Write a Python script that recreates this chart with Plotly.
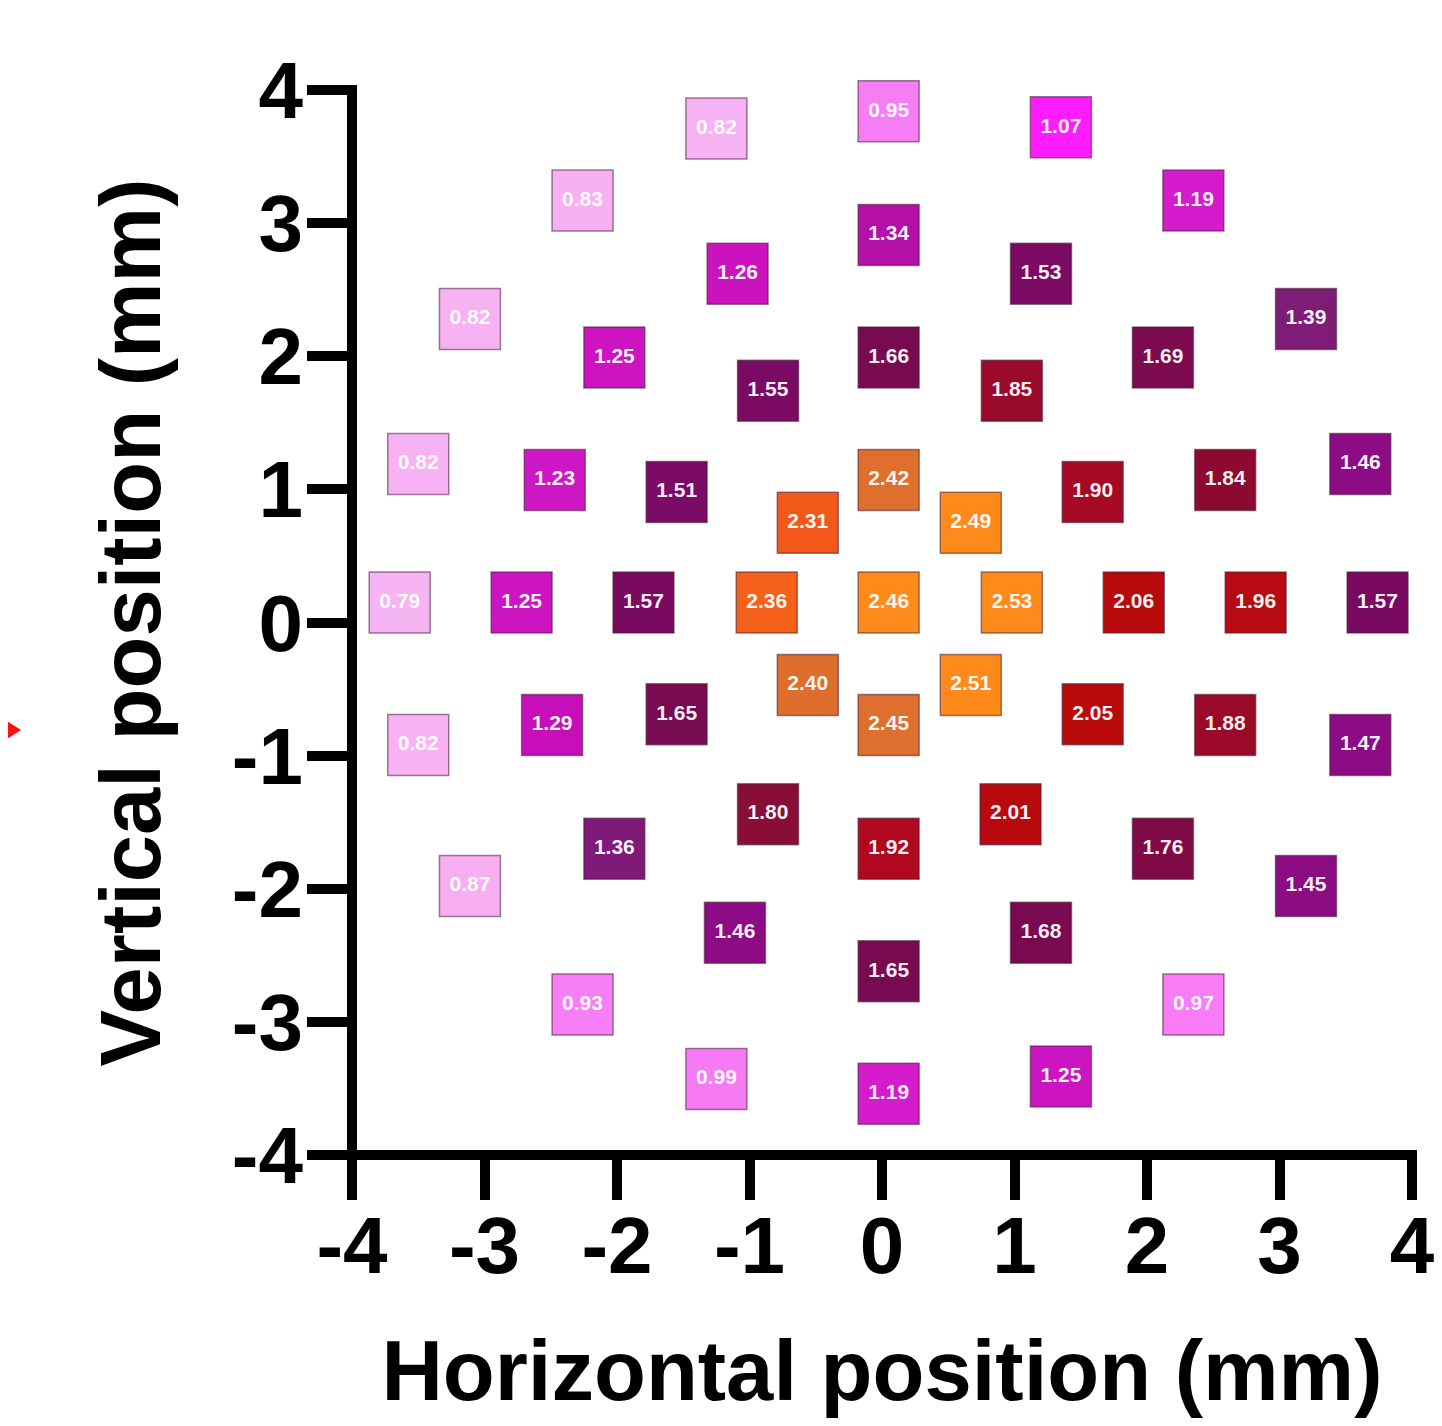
import plotly.graph_objects as go

# ---- data ----
x_pos = [-1.25, 0.05, 1.35, -2.26, 2.35, 0.05, -1.09, 1.20, -3.11, 3.20,
         -2.02, 0.05, 2.12, -0.86, 0.98, -3.50, 3.61, -2.47, 0.05, 2.59,
         -1.55, 1.59, -0.56, 0.67,
         -3.64, -2.72, -1.80, -0.87, 0.05, 0.98, 1.90, 2.82, 3.74,
         -0.56, 0.67, -1.55, 1.59, -2.49, 0.05, 2.59, -3.50, 3.61,
         -0.86, 0.97, -2.02, 0.05, 2.12, -3.11, 3.20, -1.11, 1.20,
         0.05, -2.26, 2.35, -1.25, 1.35, 0.05]
y_pos = [3.71, 3.84, 3.72, 3.17, 3.17, 2.91, 2.62, 2.62, 2.28, 2.28,
         1.99, 1.99, 1.99, 1.74, 1.74, 1.19, 1.19, 1.07, 1.07, 1.07,
         0.98, 0.98, 0.75, 0.75,
         0.15, 0.15, 0.15, 0.15, 0.15, 0.15, 0.15, 0.15, 0.15,
         -0.47, -0.47, -0.69, -0.69, -0.77, -0.77, -0.77, -0.92, -0.92,
         -1.44, -1.44, -1.70, -1.70, -1.70, -1.98, -1.98, -2.33, -2.33,
         -2.62, -2.87, -2.87, -3.43, -3.41, -3.54]
values = [0.82, 0.95, 1.07, 0.83, 1.19, 1.34, 1.26, 1.53, 0.82, 1.39,
          1.25, 1.66, 1.69, 1.55, 1.85, 0.82, 1.46, 1.23, 2.42, 1.84,
          1.51, 1.90, 2.31, 2.49,
          0.79, 1.25, 1.57, 2.36, 2.46, 2.53, 2.06, 1.96, 1.57,
          2.40, 2.51, 1.65, 2.05, 1.29, 2.45, 1.88, 0.82, 1.47,
          1.80, 2.01, 1.36, 1.92, 1.76, 0.87, 1.45, 1.46, 1.68,
          1.65, 0.93, 0.97, 0.99, 1.25, 1.19]
tick_vals = [-4, -3, -2, -1, 0, 1, 2, 3, 4]

x_title = "Horizontal position (mm)"
y_title = "Vertical position (mm)"

# ---- colour scale (value -> colour) ----
color_stops = [
    (0.79, "#f7b4f3"), (0.88, "#f7aef2"), (0.93, "#f77ff5"), (0.99, "#f77af5"),
    (1.07, "#ff1cff"), (1.19, "#d41ccc"), (1.29, "#c60fb8"), (1.34, "#b40fa6"),
    (1.36, "#801a78"), (1.40, "#7e1c74"), (1.45, "#8c0c84"), (1.48, "#8e0a86"),
    (1.51, "#7a0a66"), (1.57, "#7a0a60"), (1.66, "#780a50"), (1.70, "#7c0a4e"),
    (1.76, "#800a45"), (1.80, "#880e38"), (1.84, "#8c0a30"), (1.855, "#a00a28"),
    (1.88, "#9a0a28"), (1.92, "#b0081e"), (1.96, "#b80a12"), (2.06, "#b80a0a"),
    (2.30, "#f0561a"), (2.36, "#f5601a"), (2.39, "#de6e2c"), (2.45, "#de6f2e"),
    (2.455, "#ff8a1c"), (2.53, "#ff8a1c"),
]
vmin, vmax = color_stops[0][0], color_stops[-1][0]
colorscale = [[(v - vmin) / (vmax - vmin), c] for v, c in color_stops]

FONT = "Liberation Sans, Arial, Helvetica, sans-serif"

# the page adds an 8px body margin around the figure; size the figure to fit
W, H = 1442 - 16, 1426 - 16
PL, PR, PT, PB = 344, 1404, 82, 1147   # plot area in figure pixels
LW = 10                                # axis line width

fig = go.Figure()
fig.add_trace(go.Scatter(
    x=x_pos, y=y_pos,
    mode="markers+text",
    text=[f"{v:.2f}" for v in values],
    textposition="middle center",
    textfont=dict(family=FONT, size=21, color="rgba(255,255,255,0.95)", weight="bold"),
    marker=dict(
        symbol="square", size=61,
        color=values, colorscale=colorscale, cmin=vmin, cmax=vmax,
        showscale=False,
        line=dict(color="rgba(70,30,55,0.55)", width=1.5),
    ),
    hoverinfo="skip",
    cliponaxis=False,
))

def px(xp):
    return (xp - PL) / (PR - PL)

def py(yp):
    return (PB - yp) / (PB - PT)

# axis lines centred on the edge of the plot area (so they meet the -4 ticks)
ex = (LW / 2) / (PR - PL)
ey = (LW / 2) / (PB - PT)
fig.add_shape(type="line", xref="paper", yref="paper", layer="above",
              x0=0, x1=0, y0=-ey, y1=1 + ey, line=dict(color="black", width=LW))
fig.add_shape(type="line", xref="paper", yref="paper", layer="above",
              x0=-ex, x1=1 + ex, y0=0, y1=0, line=dict(color="black", width=LW))

# small red arrow tip at the left edge of the image
fig.add_shape(
    type="path", xref="paper", yref="paper", layer="above",
    path="M %f %f L %f %f L %f %f Z" % (
        px(-12), py(706), px(13), py(722), px(-12), py(738)),
    fillcolor="#ff1010", line=dict(width=0),
)

axis_common = dict(
    range=[-4, 4], tickvals=tick_vals, ticktext=[str(t) for t in tick_vals],
    showgrid=False, zeroline=False, automargin=False, showline=False,
    ticks="outside", ticklen=44, tickwidth=10, tickcolor="black",
    tickfont=dict(family=FONT, size=80, color="black", weight="bold"),
    ticklabeloverflow="allow",
)

fig.update_layout(
    width=W, height=H,
    margin=dict(l=PL, r=W - PR, t=PT, b=H - PB),
    paper_bgcolor="white", plot_bgcolor="white",
    showlegend=False,
    xaxis=dict(**axis_common, ticklabelstandoff=-23,
               title=dict(text=x_title, standoff=71,
                          font=dict(family=FONT, size=85, color="black", weight="bold"))),
    yaxis=dict(**axis_common, ticklabelstandoff=-12,
               title=dict(text=y_title, standoff=43,
                          font=dict(family=FONT, size=85, color="black", weight="bold"))),
)

fig.write_html("out.html")
